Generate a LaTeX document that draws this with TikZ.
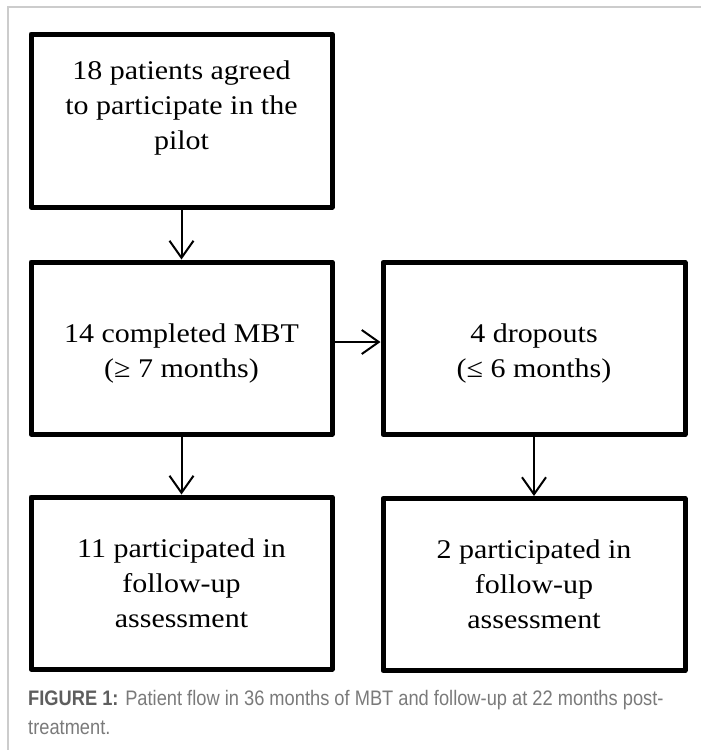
\documentclass[tikz,border=0pt]{standalone}
\usepackage{fontspec}
\setmainfont[FakeStretch=1.11]{Liberation Serif}
\newfontfamily\capfont[FakeStretch=0.87]{Liberation Sans}
\usepackage{xcolor}
\usetikzlibrary{arrows.meta}
\definecolor{framegray}{HTML}{CCCCCC}
\definecolor{capdark}{HTML}{5E5E5E}
\definecolor{caplight}{HTML}{7A7A7A}

\begin{document}
\begin{tikzpicture}[x=1pt,y=-1pt,
  box/.style={draw,line width=5pt,line join=round,minimum width=301pt,minimum height=172pt,
    align=center,inner sep=0pt,font=\fontsize{27}{35}\selectfont},
  flow/.style={-{Straight Barb[length=17pt,width=24pt]},line width=2pt}]
\useasboundingbox (0,0) rectangle (701,750);
\draw[framegray,line width=2pt] (8,750) -- (8,7) -- (701,7);
\node (pilot) at (181.5,120.5) [box,minimum height=173pt,text depth=31pt] {18 patients agreed\\to participate in the\\pilot};
\node (mbt) at (181.5,348) [box,text height=64pt] {14 completed MBT\\(≥ 7 months)};
\node (drop) at (534,348.5) [box,minimum width=302pt,text height=64pt] {4 dropouts\\(≤ 6 months)};
\node (fumbt) at (181.5,583) [box] {11 participated in\\follow-up\\assessment};
\node (fudrop) at (534,584.5) [box,minimum width=302pt] {2 participated in\\follow-up\\assessment};
\draw[flow] (pilot) -- (mbt);
\draw[flow] ([yshift=6pt]mbt.east) -- ([yshift=6pt]mbt.east -| drop.west);
\draw[flow] (mbt) -- (fumbt);
\draw[flow] (drop) -- (fudrop);
\node (caption) at (28,690) [anchor=north west,align=left,inner sep=0pt,text=caplight,
  font=\capfont\fontsize{21}{29}\selectfont] {{\bfseries\color{capdark}FIGURE 1:} Patient flow in 36 months of MBT and follow-up at 22 months post-\\treatment.};
\end{tikzpicture}
\end{document}
